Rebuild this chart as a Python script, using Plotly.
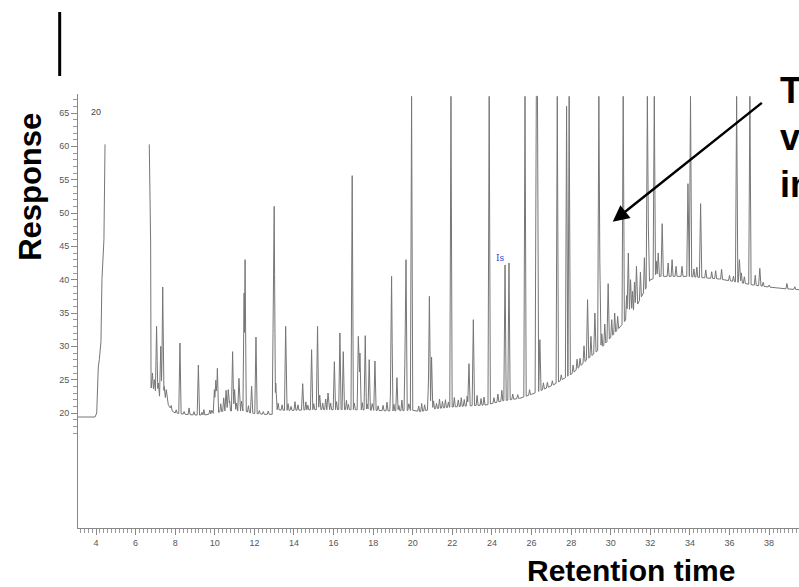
import numpy as np
import plotly.graph_objects as go

# ---------------- data ----------------
# first segment (before the solvent delay gap)
SEG1_T = [3.09, 3.95, 4.035, 4.116, 4.167, 4.25, 4.30, 4.37, 4.40, 4.455]
SEG1_V = [19.4, 19.4, 20.0, 26.9, 28.0, 30.7, 40.0, 44.0, 46.0, 60.3]

# head of the second segment
SEG2_HEAD_T = [6.69, 6.72, 6.76]
SEG2_HEAD_V = [60.3, 50.0, 45.5]

# baseline (unresolved hump) knots
BASE_T = [6.78, 6.9, 7.1, 7.3, 7.5, 7.7, 7.85, 8.0, 8.5, 9.0, 9.5, 10.0, 10.5, 11.0,
          11.5, 11.8, 12.5, 12.9, 13.1, 13.5, 14.0, 15.0, 16.0, 17.0, 18.0, 19.0,
          20.0, 20.4, 21.0, 22.0, 23.0, 23.7, 24.5, 25.4, 26.0, 26.5, 27.1, 28.1,
          28.8, 29.6, 30.5, 31.3, 32.0, 32.5, 33.8, 35.5, 37.2, 38.5, 39.51]
BASE_V = [23.8, 23.2, 22.8, 22.3, 22.0, 21.0, 20.3, 20.0, 19.8, 19.7, 19.7, 20.0, 20.3, 20.3,
          20.3, 20.0, 19.8, 19.8, 20.5, 20.4, 20.4, 20.5, 20.5, 20.5, 20.4, 20.3,
          20.4, 20.2, 20.6, 20.9, 21.1, 21.2, 21.8, 22.2, 22.8, 23.4, 24.2, 26.0,
          28.0, 30.0, 33.0, 36.0, 40.0, 40.5, 40.5, 40.1, 39.2, 38.7, 38.5]

# resolved peaks: retention time and apex response
PEAK_T = [6.85, 6.95, 7.06, 7.15, 7.27, 7.37, 7.45, 7.55, 8.24, 9.17, 9.98, 10.05, 10.13,
          10.57, 10.68, 10.9, 11.0, 11.22, 11.48, 11.53, 11.86, 12.08, 12.96, 13.0, 13.08,
          13.58, 14.44, 14.89, 15.19, 15.3, 15.72, 16.04, 16.32, 16.49, 16.94, 17.25, 17.33,
          17.6, 17.8, 18.09, 18.9, 18.93, 19.2, 19.62, 19.66, 19.94, 20.8, 20.84, 20.95,
          21.93, 22.84, 23.06, 23.86, 24.66, 24.86, 25.67, 26.24, 26.3, 26.42, 27.3, 27.77,
          27.9, 28.83, 29.2, 29.4, 29.45, 29.87, 30.63, 30.89, 31.0, 31.3, 31.85, 31.9,
          32.2, 32.4, 32.6, 33.9, 34.03, 34.54, 36.36, 36.5, 37.03, 37.53]
PEAK_V = [26.0, 25.0, 33.0, 24.5, 30.0, 38.9, 24.0, 23.5, 30.5, 27.2, 23.5, 24.9, 26.7,
          23.4, 23.5, 29.2, 23.5, 25.2, 38.0, 43.0, 24.0, 31.4, 38.0, 51.0, 24.5,
          33.0, 24.4, 29.5, 33.0, 22.7, 23.0, 27.7, 32.0, 29.2, 55.6, 31.5, 29.0,
          31.6, 28.0, 27.8, 25.0, 40.5, 25.3, 31.0, 43.0, 67.5, 25.0, 37.5, 28.4,
          67.5, 27.4, 34.0, 67.5, 42.2, 42.5, 67.5, 67.5, 67.5, 31.0, 67.5, 66.0,
          67.5, 37.0, 35.0, 67.5, 42.7, 39.4, 67.5, 44.0, 40.0, 42.0, 67.5, 47.9,
          67.5, 44.0, 48.4, 54.4, 67.5, 51.4, 67.5, 43.0, 67.5, 41.7]

# small peaks ("grass"): retention time and height above the hump
MINOR_T = [7.6, 7.8, 8.05, 8.45, 8.7, 8.95, 9.35, 9.45, 9.75, 9.85,
           10.3, 10.45, 10.75, 11.1, 11.35, 11.7, 12.25, 12.45, 12.7,
           13.2, 13.4, 13.7, 13.85, 14.05, 14.2, 14.6, 14.7, 15.0, 15.45, 15.6, 15.85,
           16.15, 16.65, 16.75, 17.05, 17.45, 17.7, 17.95, 18.25, 18.5, 18.7, 19.05, 19.3, 19.45, 19.8,
           20.3, 20.45, 20.6, 21.05, 21.2, 21.35, 21.5, 21.65, 21.8, 22.1, 22.3, 22.45, 22.6, 22.75,
           23.25, 23.45, 23.6,
           24.1, 24.3, 24.5, 25.05, 25.3, 25.9, 26.6, 26.8, 27.05, 27.5, 28.1, 28.3, 28.45,
           28.65, 29.0, 29.55, 29.7, 30.05, 30.2, 30.35, 30.8, 31.1, 31.2, 31.5, 31.7,
           32.3, 32.9, 33.1, 33.3, 33.6, 34.2, 34.35, 34.8, 35.1, 35.3, 35.6, 36.0, 36.2,
           36.6, 36.75, 37.3, 37.7, 38.0, 38.9, 39.3]
MINOR_H = [0.8, 0.6, 0.5, 0.4, 1.0, 0.5, 0.4, 0.8, 0.6, 0.5,
           1.2, 2.0, 1.5, 1.2, 1.5, 1.0, 0.5, 0.4, 0.5,
           1.0, 0.8, 1.0, 0.6, 1.3, 0.8, 1.2, 0.7, 0.9, 1.0, 1.6, 1.0,
           1.2, 1.4, 0.8, 1.0, 1.1, 0.9, 1.0, 0.7, 0.8, 1.3, 1.0, 0.8, 1.6, 1.0,
           0.8, 1.2, 0.9, 1.2, 0.8, 1.4, 1.0, 1.2, 0.8, 1.4, 1.0, 1.3, 1.0, 1.5,
           1.5, 1.0, 1.2,
           0.8, 1.2, 1.6, 0.8, 0.6, 0.8, 1.0, 0.8, 0.7, 0.8, 1.2, 1.5, 1.2,
           2.5, 3.0, 2.0, 3.0, 2.5, 3.0, 2.0, 3.5, 3.0, 4.0, 4.0, 5.0,
           2.5, 2.0, 2.5, 1.5, 1.5, 1.2, 1.5, 1.2, 1.0, 1.2, 1.5, 0.8, 0.8,
           1.5, 1.0, 1.5, 0.6, 0.3, 0.8, 0.4]

X_TICKS = list(range(4, 39, 2))
Y_TICKS = [20, 25, 30, 35, 40, 45, 50, 55, 60, 65]
Y_MINOR = [v for v in range(17, 69) if v % 5 != 0]

# ---------------- build the trace from the peak table ----------------
HW_MAJOR = 0.06
HW_MINOR = 0.05
bt = np.array(BASE_T)
bv = np.array(BASE_V)
pt = np.array(PEAK_T)
pv = np.array(PEAK_V)
mt = np.array(MINOR_T)
mh = np.array(MINOR_H)

verts = set(bt.tolist())
for t0 in pt:
    verts |= {t0 - HW_MAJOR, t0, t0 + HW_MAJOR}
for t0 in mt:
    verts |= {t0 - HW_MINOR, t0, t0 + HW_MINOR}
tv = np.array(sorted(v for v in verts if bt[0] <= v <= bt[-1]))
base = np.interp(tv, bt, bv)
bump = np.zeros_like(tv)
ph = pv - np.interp(pt, bt, bv)
for t0, h in zip(pt, ph):
    bump = np.maximum(bump, h * np.clip(1 - np.abs(tv - t0) / HW_MAJOR, 0, None))
for t0, h in zip(mt, mh):
    bump = np.maximum(bump, h * np.clip(1 - np.abs(tv - t0) / HW_MINOR, 0, None))
yv = base + bump

xs = SEG1_T + [None] + SEG2_HEAD_T + tv.tolist()
ys = SEG1_V + [None] + SEG2_HEAD_V + yv.tolist()

FONT = "Liberation Sans, Arial, sans-serif"

fig = go.Figure()
fig.add_trace(go.Scatter(x=xs, y=ys, mode="lines",
                         line=dict(color="#767676", width=1),
                         connectgaps=False, hoverinfo="skip", showlegend=False))

fig.update_layout(
    width=799, height=587,
    margin=dict(l=78, r=0, t=94, b=59),
    paper_bgcolor="white", plot_bgcolor="white",
    showlegend=False,
    xaxis=dict(range=[3.09, 39.51], tickmode="array", tickvals=X_TICKS,
               ticktext=[str(v) for v in X_TICKS],
               ticks="outside", ticklen=6, tickcolor="#888", tickwidth=1,
               showline=True, linecolor="#888", linewidth=1,
               showgrid=False, zeroline=False,
               tickfont=dict(family=FONT, size=9, color="#555"),
               minor=dict(tick0=0, dtick=0.2, ticks="outside", ticklen=4,
                          tickcolor="#999", showgrid=False)),
    yaxis=dict(range=[2.75, 67.85], tickmode="array", tickvals=Y_TICKS,
               ticktext=[str(v) for v in Y_TICKS],
               ticks="outside", ticklen=6, tickcolor="#888", tickwidth=1,
               showline=True, linecolor="#888", linewidth=1,
               showgrid=False, zeroline=False,
               tickfont=dict(family=FONT, size=9, color="#555"),
               minor=dict(tickmode="array", tickvals=Y_MINOR, ticks="outside",
                          ticklen=4, tickcolor="#999", showgrid=False)),
)

annotations = [
    dict(text="<b>Response</b>", xref="paper", yref="paper", x=-0.0652, y=0.786,
         textangle=-90, showarrow=False, xanchor="center", yanchor="middle",
         font=dict(family=FONT, size=31, color="black")),
    dict(text="<b>Retention time</b>", xref="paper", yref="paper", x=0.7663, y=-0.099,
         showarrow=False, xanchor="center", yanchor="middle",
         font=dict(family=FONT, size=30, color="black")),
    dict(text="<b>The<br>very<br>in</b>", xref="paper", yref="paper", x=0.971, y=1.06,
         showarrow=False, xanchor="left", yanchor="top", align="left",
         font=dict(family=FONT, size=36, color="black")),
    dict(text="", x=30.1, y=48.7, xref="x", yref="y", ax=150.6, ay=-120,
         showarrow=True, arrowhead=2, arrowsize=1.3, arrowwidth=2.5,
         arrowcolor="black", standoff=0),
    dict(text="20", x=4.0, y=65.2, xref="x", yref="y", showarrow=False,
         font=dict(family=FONT, size=9, color="#444")),
    dict(text="Is", x=24.45, y=43.3, xref="x", yref="y", showarrow=False,
         font=dict(family="DejaVu Serif", size=9, color="#3344cc")),
]
fig.update_layout(annotations=annotations)

fig.add_shape(type="line", xref="paper", yref="paper", x0=-0.0254, x1=-0.0254,
              y0=1.0415, y1=1.189, line=dict(color="black", width=3))

fig.write_html("out.html")
